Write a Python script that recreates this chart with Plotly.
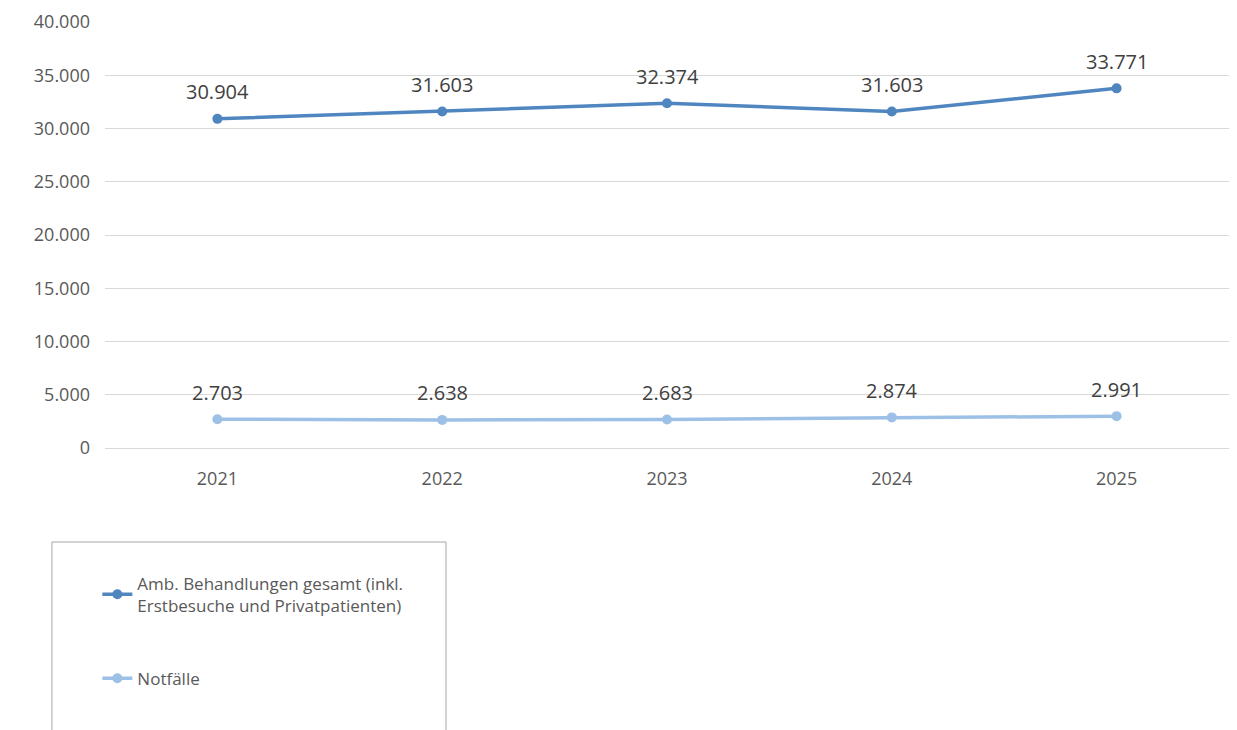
import plotly.graph_objects as go

years = ["2021", "2022", "2023", "2024", "2025"]
amb_gesamt = [30904, 31603, 32374, 31603, 33771]
notfaelle = [2703, 2638, 2683, 2874, 2991]
name_amb = "Amb. Behandlungen gesamt (inkl.<br>Erstbesuche und Privatpatienten)"
name_not = "Notfälle"
y_ticks = [0, 5000, 10000, 15000, 20000, 25000, 30000, 35000, 40000]

FONT = "Open Sans"
c_dark = "#4F86C0"
c_light = "#9DC0E6"

def fmt(v):
    return f"{v:,}".replace(",", ".")

fig = go.Figure()
fig.add_trace(go.Scatter(x=years, y=amb_gesamt, name=name_amb, mode="lines+markers",
                         line=dict(color=c_dark, width=3.5), marker=dict(size=10, color=c_dark),
                         legendgroup="a"))
fig.add_trace(go.Scatter(x=years, y=notfaelle, name=name_not, mode="lines+markers",
                         line=dict(color=c_light, width=3.5), marker=dict(size=10, color=c_light),
                         legendgroup="b"))

for series in (amb_gesamt, notfaelle):
    for i, v in enumerate(series):
        fig.add_annotation(x=i, y=v, xref="x", yref="y", text=fmt(v), showarrow=False, yshift=27,
                           font=dict(family=FONT, size=20, color="#404040"))

# legend frame
fig.add_shape(type="rect", xref="paper", yref="paper", x0=-0.0472, x1=0.3034, y0=-0.70, y1=-0.2207,
              line=dict(color="#A6A6A6", width=1), fillcolor="rgba(0,0,0,0)")

fig.update_layout(
    width=1229, height=722,
    margin=dict(l=97, r=8, t=14, b=282, autoexpand=False),
    paper_bgcolor="white", plot_bgcolor="white",
    separators=",.",
    font=dict(family=FONT, color="#595959", size=18),
    showlegend=True,
    legend=dict(x=-0.0068, y=-0.276, xanchor="left", yanchor="top", orientation="v",
                tracegroupgap=48, bgcolor="rgba(0,0,0,0)",
                font=dict(family=FONT, size=17, color="#595959")),
    xaxis=dict(type="category", range=[-0.5, 4.5], showgrid=False, showline=False,
               automargin=False,
               ticks="outside", ticklen=14, tickcolor="rgba(0,0,0,0)",
               tickfont=dict(family=FONT, size=18, color="#595959")),
    yaxis=dict(range=[0, 40000], tickvals=y_ticks, tickformat=",d", showgrid=True,
               automargin=False,
               gridcolor="#D9D9D9", gridwidth=1, zeroline=True, zerolinecolor="#D9D9D9",
               zerolinewidth=1, showline=False, ticklabelstandoff=14,
               tickfont=dict(family=FONT, size=18, color="#595959")),
)

fig.write_html("out.html")
